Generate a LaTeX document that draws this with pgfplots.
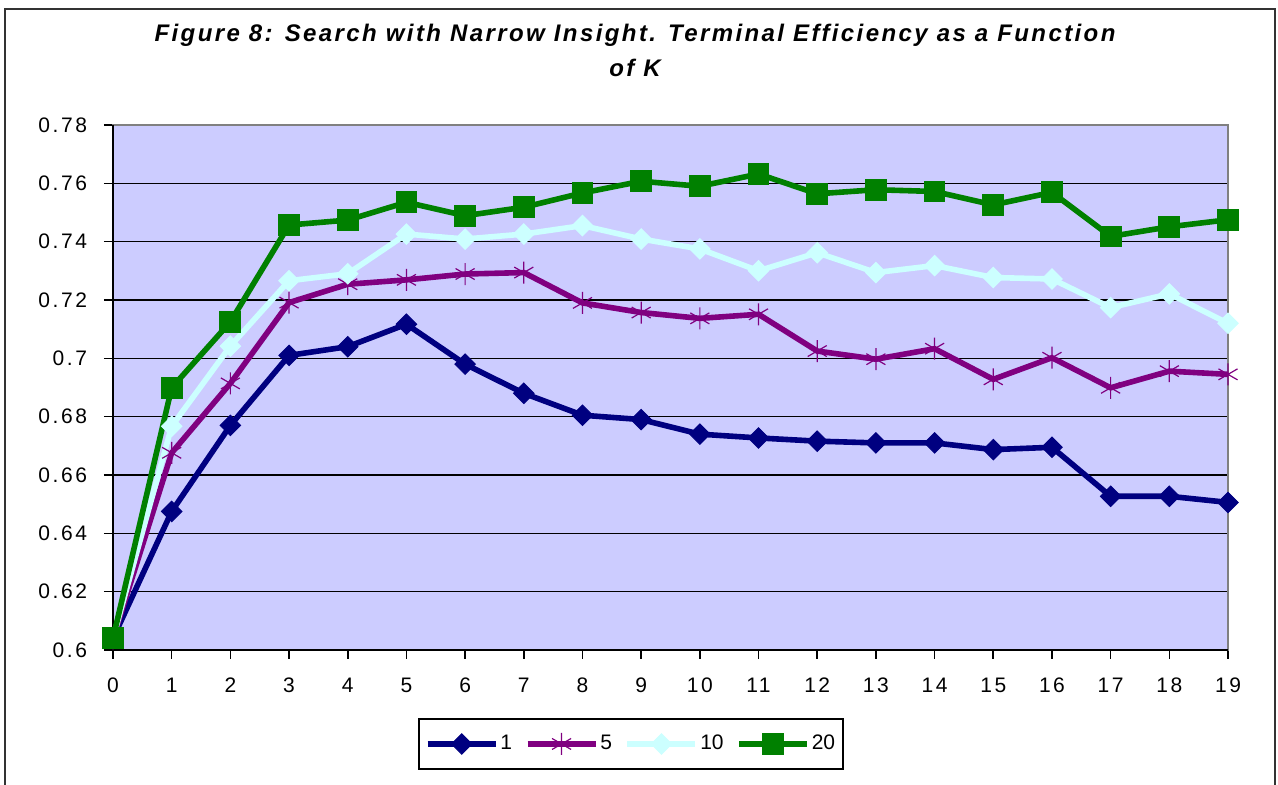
\documentclass[border=0pt]{standalone}
\usepackage{fontspec}
\setmainfont{Liberation Sans}
\usepackage{pgfplots}
\pgfplotsset{compat=1.18}
\definecolor{bgblue}{RGB}{204,204,255}
\definecolor{snavy}{RGB}{0,0,128}
\definecolor{spurple}{RGB}{128,0,128}
\definecolor{scyan}{RGB}{204,255,255}
\definecolor{sgreen}{RGB}{0,128,0}
\begin{document}
\begin{tikzpicture}
\useasboundingbox (0,0) rectangle (639pt,392.5pt);
\draw[line width=1pt,black!80] (2.5pt,-2pt) -- (2.5pt,388pt) -- (637.5pt,388pt) -- (637.5pt,-2pt);
\node[font=\fontsize{12}{17.5}\selectfont\bfseries\itshape\addfontfeature{LetterSpace=10}, align=center, anchor=center] at (317.5pt,367.5pt)
  {Figure 8: Search with Narrow Insight. Terminal Efficiency as a Function\\of K};
\begin{axis}[
  at={(56.5pt,67.5pt)}, anchor=south west,
  scale only axis, width=557.5pt, height=262.5pt,
  xmin=0, xmax=19, ymin=0.6, ymax=0.78,
  xtick={0,1,...,19},
  ytick={0.6,0.62,...,0.78},
  xtick pos=bottom, ytick pos=left,
  /pgf/number format/assume math mode=true,
  /pgf/number format/fixed,
  /pgf/number format/precision=2,
  ticklabel style={font=\fontsize{10.5}{12}\selectfont\addfontfeature{LetterSpace=12}},
  yticklabel style={xshift=-5pt},
  xticklabel style={yshift=-6pt},
  tick align=outside,
  major tick length=4.5pt,
  tick style={black, line width=0.8pt},
  axis background/.style={fill=bgblue},
  axis line style={draw=gray, line width=0.7pt},
  ymajorgrids, major grid style={black, line width=0.8pt},
  clip=false,
  legend style={at={(0.4646,-0.179)}, anchor=center, draw=black, line width=0.8pt,
    font=\fontsize{10.5}{12}\selectfont, inner xsep=3pt, inner ysep=6pt,
    nodes={inner xsep=1pt},
    /tikz/every odd column/.append style={column sep=0pt},
    /tikz/every even column/.append style={column sep=5.3pt}},
  legend columns=4,
  legend cell align=left,
  legend image code/.code={\draw[mark repeat=2,mark phase=2,#1] plot coordinates {(0pt,0pt) (17pt,0pt) (34pt,0pt)};},
]
\draw[black, line width=1pt] (rel axis cs:0,1) -- (rel axis cs:0,0) -- (rel axis cs:1,0);
\addplot[snavy, line width=2.8pt, mark=square*, mark size=3.6pt, mark options={rotate=45, solid, line width=0.5pt}] coordinates {
(0,0.604) (1,0.6475) (2,0.677) (3,0.701) (4,0.704) (5,0.7117) (6,0.698) (7,0.688) (8,0.6805)
(9,0.679) (10,0.674) (11,0.6727) (12,0.6716) (13,0.671) (14,0.671) (15,0.6687) (16,0.6695)
(17,0.6527) (18,0.6527) (19,0.6506)};
\addlegendentry{1}
\addplot[spurple, line width=2.8pt, mark=asterisk, mark size=5.5pt, mark options={solid, line width=0.6pt}] coordinates {
(0,0.604) (1,0.6676) (2,0.6914) (3,0.7191) (4,0.7254) (5,0.7269) (6,0.7289) (7,0.7294) (8,0.719)
(9,0.7157) (10,0.7137) (11,0.7151) (12,0.7025) (13,0.6997) (14,0.7033) (15,0.6928) (16,0.7002)
(17,0.6899) (18,0.6956) (19,0.6945)};
\addlegendentry{5}
\addplot[scyan, line width=2.8pt, mark=square*, mark size=3.6pt, mark options={rotate=45, solid, line width=0.5pt}] coordinates {
(0,0.604) (1,0.6767) (2,0.7042) (3,0.7266) (4,0.729) (5,0.7426) (6,0.7409) (7,0.7426) (8,0.7455)
(9,0.7409) (10,0.7375) (11,0.730) (12,0.7362) (13,0.7294) (14,0.7318) (15,0.7277) (16,0.7272)
(17,0.7174) (18,0.7221) (19,0.712)};
\addlegendentry{10}
\addplot[sgreen, line width=2.8pt, mark=square*, mark size=5.2pt, mark options={solid, line width=0.5pt}] coordinates {
(0,0.604) (1,0.6899) (2,0.7125) (3,0.7457) (4,0.7474) (5,0.7535) (6,0.7489) (7,0.7518) (8,0.7567)
(9,0.7607) (10,0.759) (11,0.7632) (12,0.7564) (13,0.7578) (14,0.7572) (15,0.7526) (16,0.7569)
(17,0.7418) (18,0.7451) (19,0.7475)};
\addlegendentry{20}
\end{axis}
\end{tikzpicture}
\end{document}
